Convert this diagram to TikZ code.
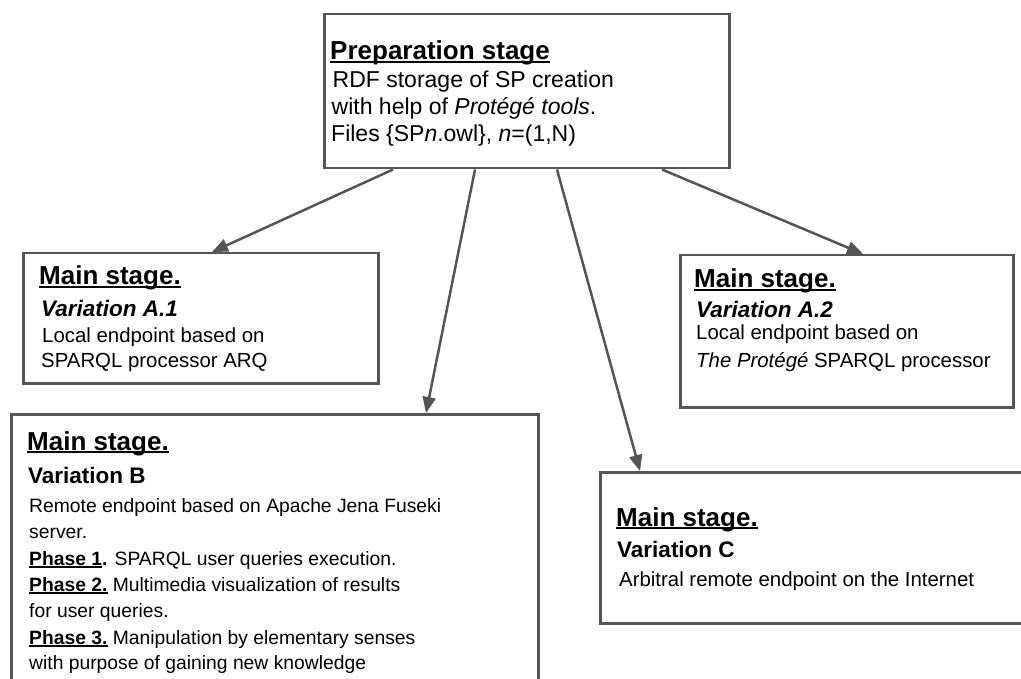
\documentclass[tikz,border=0pt]{standalone}
\usepackage{fontspec}
\setmainfont{Liberation Sans}
\usetikzlibrary{arrows.meta}
\definecolor{edgegray}{RGB}{85,85,85}
\newcommand\myul[1]{\setbox0=\hbox{#1}\rlap{\rule[-3.2pt]{\wd0}{1.8pt}}\box0\relax}
\begin{document}
\begin{tikzpicture}[x=1pt,y=-1pt,
  stagebox/.style={draw=edgegray, line width=2.5pt, rectangle, inner sep=0pt, anchor=north west, fill=white},
  txt/.style={anchor=base west, inner sep=0pt, text=black},
  ttl/.style={txt, font=\fontsize{26}{30}\selectfont\bfseries},
  var/.style={txt, font=\fontsize{22.5}{26}\selectfont\bfseries},
  bodyA/.style={txt, font=\fontsize{20.4}{24}\selectfont},
  bodyB/.style={txt, font=\fontsize{19.3}{23}\selectfont},
  bodyP/.style={txt, font=\fontsize{23}{27}\selectfont},
  arr/.style={draw=edgegray, line width=2.5pt, -{Triangle[length=16pt,width=13pt]}}
]
\clip (0,0) rectangle (1021,679);
\useasboundingbox (0,0) rectangle (1021,679);

% boxes
\node[stagebox, minimum width=405pt, minimum height=154pt] (prep) at (323,13) {};
\node[stagebox, minimum width=355pt, minimum height=130pt] (a1) at (22,252) {};
\node[stagebox, minimum width=333pt, minimum height=152pt] (a2) at (679,254) {};
\node[stagebox, minimum width=527pt, minimum height=300pt] (b) at (10,413) {};
\node[stagebox, minimum width=450pt, minimum height=151pt] (c) at (599,471) {};

% preparation stage text
\node[ttl] (pt) at (330,60) {\myul{Preparation stage}};
\node[bodyP] (p1) at (332.5,88) {RDF storage of SP creation};
\node[bodyP] (p2) at (331.5,115) {with help of \textit{Protégé tools}.};
\node[bodyP] (p3) at (331,142) {Files \{SP\textit{n}.owl\}, \textit{n}=(1,N)};

% A.1
\node[ttl] (a1t) at (39,285) {\myul{Main stage.}};
\node[var] (a1v) at (41,317) {\textit{Variation A.1}};
\node[bodyA] (a1l1) at (42,342) {Local endpoint based on};
\node[bodyA] (a1l2) at (41,367) {SPARQL processor ARQ};

% A.2
\node[ttl] (a2t) at (694,288) {\myul{Main stage.}};
\node[var] (a2v) at (696,318) {\textit{Variation A.2}};
\node[bodyA] (a2l1) at (696,340) {Local endpoint based on};
\node[bodyA] (a2l2) at (696,367) {\textit{The Protégé} SPARQL processor};

% B
\node[ttl] (bt) at (27,450) {\myul{Main stage.}};
\node[var] (bv) at (28,483) {Variation B};
\node[bodyB] (bl1) at (29,512) {Remote endpoint based on Apache Jena Fuseki};
\node[bodyB] (bl2) at (29,538) {server.};
\node[bodyB] (bl3) at (29,565) {\myul{\textbf{Phase 1}}\textbf{.} SPARQL user queries execution.};
\node[bodyB] (bl4) at (29,591) {\myul{\textbf{Phase 2.}} Multimedia visualization of results};
\node[bodyB] (bl5) at (29,617) {for user queries.};
\node[bodyB] (bl6) at (29,644) {\myul{\textbf{Phase 3.}} Manipulation by elementary senses};
\node[bodyB] (bl7) at (29,669) {with purpose of gaining new knowledge};

% C
\node[ttl] (ct) at (616,526) {\myul{Main stage.}};
\node[var] (cv) at (617,557) {Variation C};
\node[bodyA] (cl1) at (619,586) {Arbitral remote endpoint on the Internet};

% arrows
\draw[arr] ([xshift=70pt]prep.south west) -- ([xshift=190pt]a1.north west);
\draw[arr] ([xshift=152pt]prep.south west) -- ([xshift=416pt]b.north west);
\draw[arr] ([xshift=234pt]prep.south west) -- ([xshift=41pt]c.north west);
\draw[arr] ([xshift=339pt]prep.south west) -- ([xshift=184pt]a2.north west);
\end{tikzpicture}
\end{document}
